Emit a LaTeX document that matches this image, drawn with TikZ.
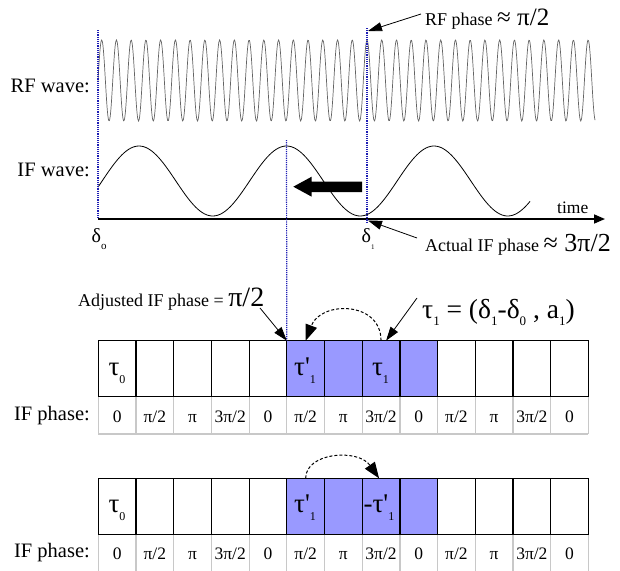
\documentclass[tikz,border=0pt]{standalone}
\usepackage{fontspec}
\setmainfont{Liberation Serif}
\newfontfamily\qfont{Liberation Serif}[Ligatures=TeXOff]
\usetikzlibrary{arrows.meta,calc}
\definecolor{cellblue}{RGB}{153,153,255}
\definecolor{guide}{RGB}{30,30,180}
\definecolor{phasegrey}{RGB}{200,200,200}
\definecolor{rfgrey}{RGB}{100,100,100}
\newcommand\fs[1]{\fontsize{#1}{#1}\selectfont}
\newcommand\lsub[3]{\raisebox{#1}{\fs{#2}#3}}
\newcommand\tpr{{\qfont'}}
\begin{document}
\begin{tikzpicture}[x=1pt,y=-1pt,
  lbl/.style={inner sep=0, font=\fs{20.5}},
  cellbox/.style={draw, line width=1.2pt, minimum width=37.7pt, minimum height=56pt, inner sep=0, outer sep=0, anchor=north west},
  hot/.style={cellbox, fill=cellblue},
  ph/.style={inner sep=0, anchor=base, font=\fs{17.5}},
  tl/.style={inner sep=0, anchor=base, font=\fs{27}},
  guideline/.style={guide, densely dotted, line width=1.2pt},
  pointer/.style={line width=0.8pt, -{Triangle[length=14pt,width=9pt]}},
  swaparrow/.style={line width=1pt, dash pattern=on 3pt off 2pt, -{Triangle[length=16pt,width=12pt]}},
  phaseline/.style={phasegrey, line width=1.2pt}]
\useasboundingbox (0,0) rectangle (620,570);

% ---------- waves ----------
\draw[rfgrey, line width=0.7pt] plot[domain=98:595, samples=700, smooth] (\x, {80.5-40.5*cos(24.4233*(\x-101.7))});
\draw[black, line width=0.8pt] plot[domain=98:530, samples=200, smooth] (\x, {181-35*cos(2.44068*(\x-139))});

% axis
\coordinate (o) at (98,219);
\coordinate (tend) at (605,219);
\draw[line width=1.6pt, -{Triangle[length=11pt,width=9pt]}] (o) -- (tend);

% guide lines
\coordinate (g0a) at (98,30);
\coordinate (g1a) at (367,28);
\coordinate (g1b) at (367,222);
\coordinate (gma) at (286.5,140);
\draw[guideline] (g0a) -- (o);
\draw[guideline] (g1a) -- (g1b);

% big left arrow
\fill (362,181.7) -- (311.7,181.7) -- (311.7,176.7) -- (293.3,186.7) -- (311.7,196.7) -- (311.7,192.2) -- (362,192.2) -- cycle;

% wave labels
\node[lbl, anchor=base east] (rfw) at (90,92.7) {RF wave:};
\node[lbl, anchor=base east] (ifw) at (90,176) {IF wave:};
\node[inner sep=0, anchor=base west, font=\fs{17.5}] (time) at (557,213) {time};

\node[inner sep=0, anchor=base west] (d0) at (91.5,242.5) {\fs{20}δ\lsub{-7pt}{11}{o}};
\node[inner sep=0, anchor=base west] (d1) at (361.5,242.5) {\fs{20}δ\lsub{-7pt}{7}{1}};

% annotations
\node[inner sep=0, anchor=base west] (rfl) at (425,25) {\fs{18}RF phase \fs{25}≈ π/2};
\coordinate (rfs) at (421,14);
\coordinate (rft) at (368,31);
\draw[pointer] (rfs) -- (rft);

\node[inner sep=0, anchor=base west] (afl) at (425,251.7) {\fs{18}Actual IF phase \fs{26}≈ 3π/2};
\coordinate (afs) at (417,238);
\coordinate (aft) at (368,220.5);
\draw[pointer] (afs) -- (aft);

% ---------- row 1 ----------
\foreach \i in {0,...,13} \draw[phaseline] ({98.3+37.7*\i},396.7) -- ({98.3+37.7*\i},434);
\draw[phaseline] (98.3,434) -- (588.4,434);
\foreach \i in {0,1,2,3,4,9,10,11,12} \node[cellbox] (a\i) at ({98.3+37.7*\i},340.7) {};
\foreach \i in {5,6,7,8} \node[hot] (a\i) at ({98.3+37.7*\i},340.7) {};
\foreach \t [count=\i from 0] in {0,π/2,π,3π/2,0,π/2,π,3π/2,0,π/2,π,3π/2,0}
  \node[ph] (p\i) at ({117.15+37.7*\i},422.7) {\t};
\node[lbl, anchor=base east] (ifp1) at (90,420) {IF phase:};

\node[tl] (ta0) at (117,375) {τ\lsub{-8pt}{12}{0}};
\node[tl] (ta5) at (305,375) {τ\tpr\lsub{-8pt}{12}{1}};
\node[tl] (ta7) at (380.5,375) {τ\lsub{-8pt}{12}{1}};

\draw[guideline] (gma) -- (a5.north west);

\node[inner sep=0, anchor=base west] (adj) at (78,306) {\fs{18}Adjusted IF phase = \fs{28}π/2};
\coordinate (adjs) at (260,308);
\draw[pointer] (adjs) -- (a5.north west);

\node[inner sep=0, anchor=base west] (form) at (422,318) {\fs{27.5}τ\lsub{-7pt}{13}{1} = (δ\lsub{-7pt}{13}{1}-δ\lsub{-7pt}{13}{0} , a\lsub{-7pt}{13}{1})};
\coordinate (fs) at (417,298);
\draw[pointer] (fs) -- ([xshift=5pt]a7.north);

\draw[swaparrow] (a7.north) .. controls ($(a7.north)+(0,-40)$) and ($(a5.north)+(15,-40)$) .. (a5.north);

% ---------- row 2 ----------
\foreach \i in {0,...,13} \draw[phaseline] ({98.3+37.7*\i},534.3) -- ({98.3+37.7*\i},572);
\foreach \i in {0,1,2,3,4,9,10,11,12} \node[cellbox] (b\i) at ({98.3+37.7*\i},478.3) {};
\foreach \i in {5,6,7,8} \node[hot] (b\i) at ({98.3+37.7*\i},478.3) {};
\foreach \t [count=\i from 0] in {0,π/2,π,3π/2,0,π/2,π,3π/2,0,π/2,π,3π/2,0}
  \node[ph] (q\i) at ({117.15+37.7*\i},559) {\t};
\node[lbl, anchor=base east] (ifp2) at (90,557) {IF phase:};

\node[tl] (tb0) at (117,512.6) {τ\lsub{-8pt}{12}{0}};
\node[tl] (tb5) at (305,512.6) {τ\tpr\lsub{-8pt}{12}{1}};
\node[tl] (tb7) at (379,512.6) {-τ\tpr\lsub{-8pt}{12}{1}};

\draw[swaparrow] (b5.north) .. controls ($(b5.north)+(0,-26)$) and ($(b7.north)+(-23,-30)$) .. ([xshift=-2pt]b7.north);
\end{tikzpicture}
\end{document}
